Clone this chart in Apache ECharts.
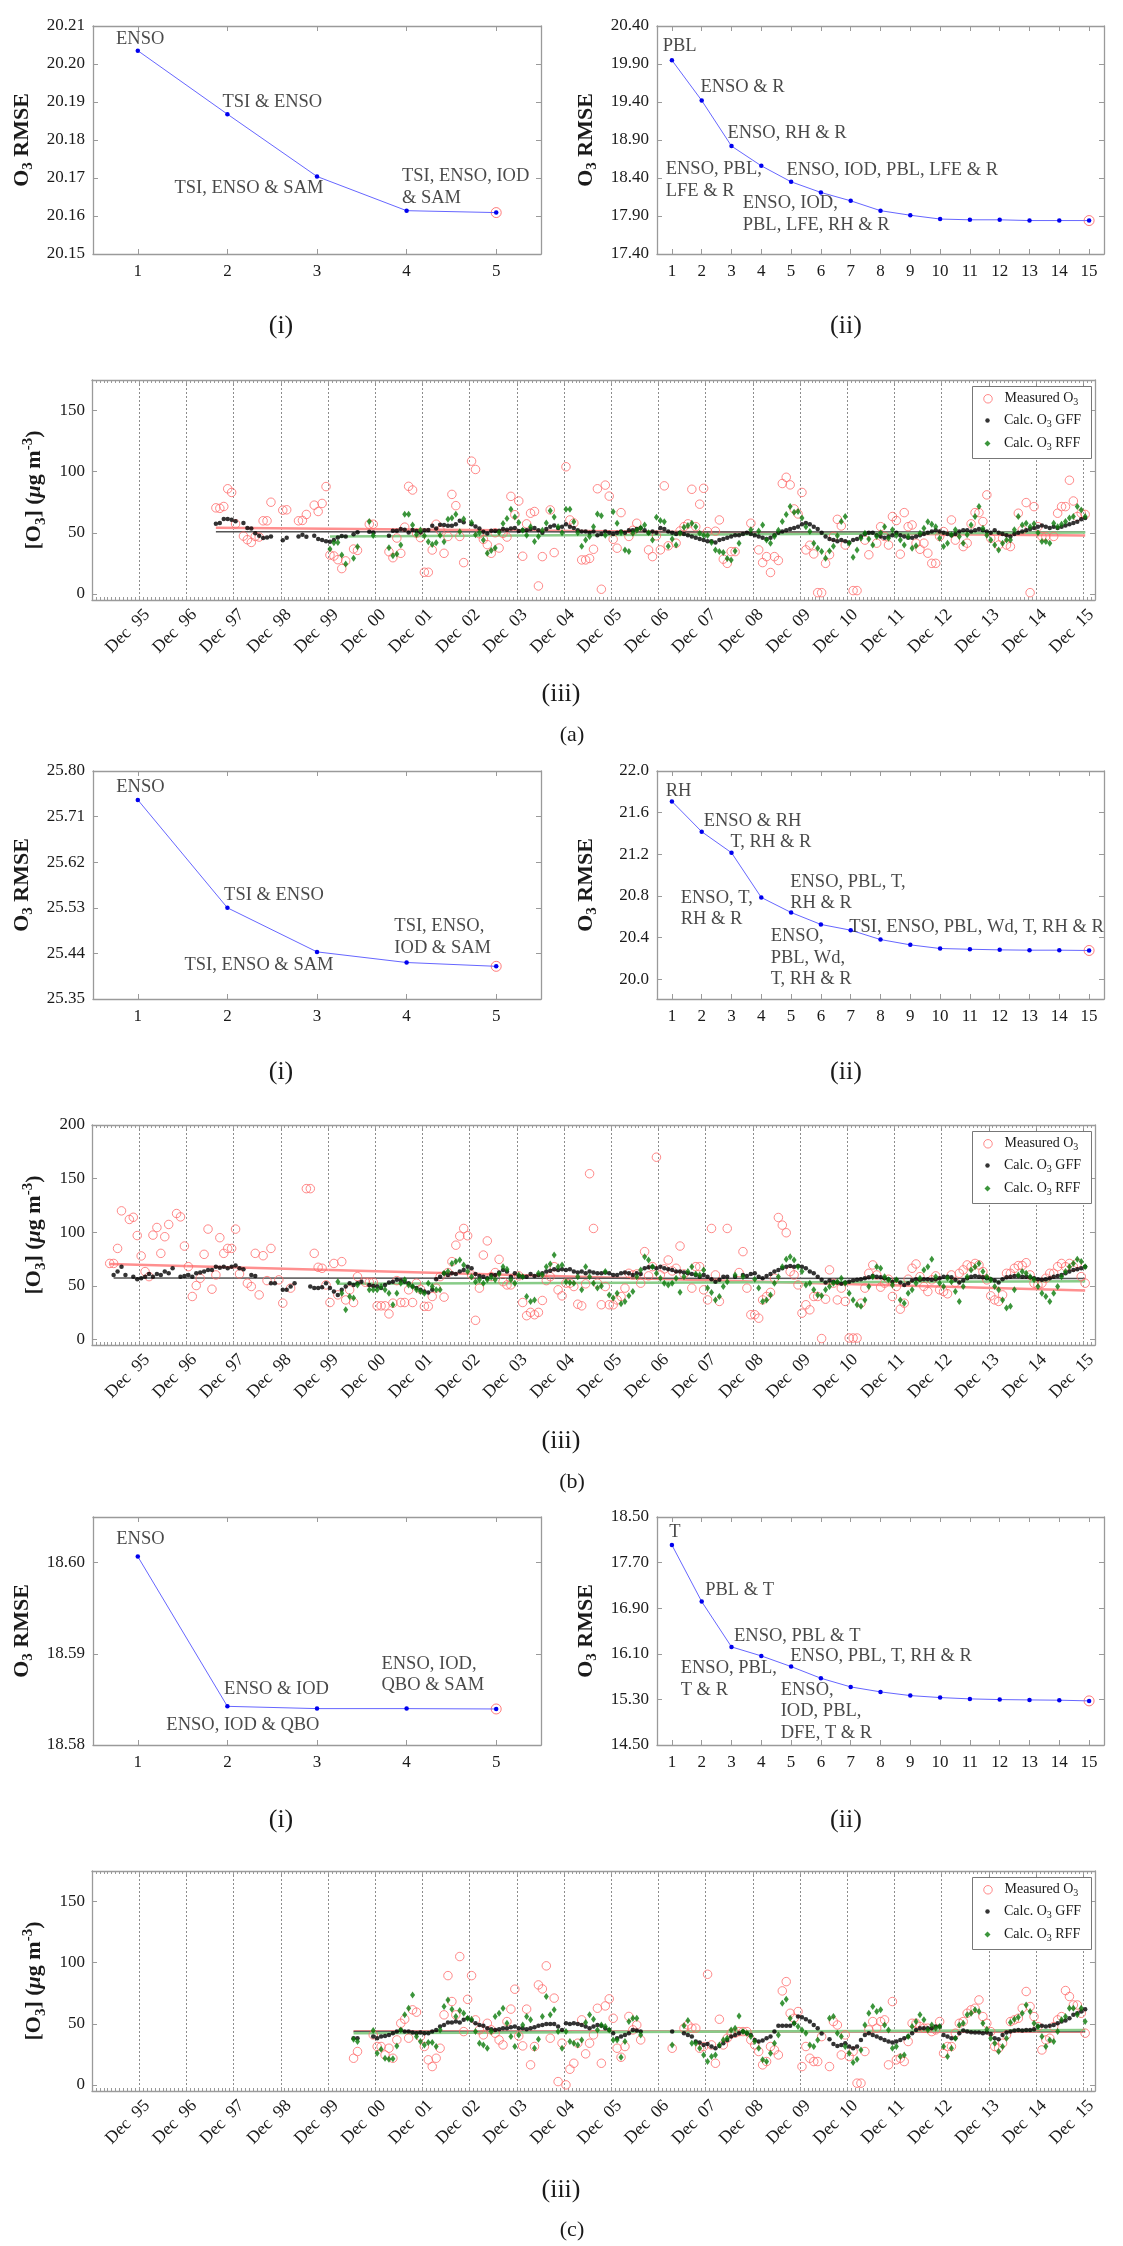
<!DOCTYPE html>
<html><head><meta charset="utf-8">
<script src="https://cdn.jsdelivr.net/npm/echarts@6/dist/echarts.min.js"></script>
<style>html,body{margin:0;padding:0;background:#fff;}#c{width:1123px;height:2246px;}</style>
</head><body><div id="c"></div>
<script>
// ---------------- DATA ----------------
// RMSE vs number of predictors
const aRmse5  = [20.2035, 20.1868, 20.1704, 20.1614, 20.1609];
const aRmse15 = [19.95, 19.42, 18.82, 18.56, 18.35, 18.21, 18.10, 17.97, 17.91, 17.86, 17.85, 17.85, 17.84, 17.84, 17.84];
const bRmse5  = [25.743, 25.530, 25.443, 25.422, 25.4145];
const bRmse15 = [21.708, 21.417, 21.215, 20.785, 20.641, 20.526, 20.471, 20.381, 20.330, 20.295, 20.288, 20.282, 20.279, 20.279, 20.276];
const cRmse5  = [18.60066, 18.58424, 18.58399, 18.58399, 18.58395];
const cRmse15 = [18.009, 17.016, 16.221, 16.063, 15.876, 15.671, 15.519, 15.432, 15.367, 15.332, 15.309, 15.297, 15.291, 15.286, 15.274];

// y tick labels of the RMSE plots
const aTicks5  = [20.15, 20.16, 20.17, 20.18, 20.19, 20.20, 20.21];
const aTicks15 = [17.40, 17.90, 18.40, 18.90, 19.40, 19.90, 20.40];
const bTicks5  = [25.35, 25.44, 25.53, 25.62, 25.71, 25.80];
const bTicks15 = [20.0, 20.4, 20.8, 21.2, 21.6, 22.0];
const cTicks5  = [18.58, 18.59, 18.60];
const cTicks15 = [14.50, 15.30, 16.10, 16.90, 17.70, 18.50];

// annotations: [text, x, y] in data units
const aNotes5  = [['ENSO', 0.762, 20.2063], ['TSI & ENSO', 1.951, 20.1897], ['TSI, ENSO & SAM', 1.414, 20.1671], ['TSI, ENSO, IOD\n& SAM', 3.953, 20.1674]];
const aNotes15 = [['PBL', 0.708, 20.124], ['ENSO & R', 1.973, 19.584], ['ENSO, RH & R', 2.879, 18.979], ['ENSO, PBL,\nLFE & R', 0.809, 18.370], ['ENSO, IOD, PBL, LFE & R', 4.859, 18.496], ['ENSO, IOD,\nPBL, LFE, RH & R', 3.393, 17.920]];
const bNotes5  = [['ENSO', 0.765, 25.7665], ['TSI & ENSO', 1.969, 25.5547], ['TSI, ENSO & SAM', 1.526, 25.4165], ['TSI, ENSO,\nIOD & SAM', 3.869, 25.4708]];
const bNotes15 = [['RH', 0.809, 21.798], ['ENSO & RH', 2.084, 21.517], ['T, RH & R', 2.980, 21.312], ['ENSO, T,\nRH & R', 1.312, 20.673], ['ENSO, PBL, T,\nRH & R', 4.987, 20.827], ['TSI, ENSO, PBL, Wd, T, RH & R', 6.966, 20.495], ['ENSO,\nPBL, Wd,\nT, RH & R', 4.332, 20.201]];
const cNotes5  = [['ENSO', 0.765, 18.6025], ['ENSO & IOD', 1.969, 18.5861], ['ENSO, IOD & QBO', 1.324, 18.58208], ['ENSO, IOD,\nQBO & SAM', 3.725, 18.58765]];
const cNotes15 = [['T', 0.926, 18.225], ['PBL & T', 2.134, 17.202], ['ENSO, PBL & T', 3.101, 16.395], ['ENSO, PBL, T, RH & R', 4.987, 16.044], ['ENSO, PBL,\nT & R', 1.312, 15.651], ['ENSO,\nIOD, PBL,\nDFE, T & R', 4.668, 15.084]];

// time axis (months counted from Dec 1994 = 0)
const yearLabels = ['95','96','97','98','99','00','01','02','03','04','05','06','07','08','09','10','11','12','13','14','15'];

// monthly O3 series (value for month index start+i)
const aStartM = 31, aStartG = 31, aStartR = 60;
const aMeasured = [70.4,70,71.5,86,83,57.3,null,47.3,44.3,42.1,
47,46.5,59.8,59.8,75,null,null,68.5,68.8,null,
null,59.8,60.1,65,null,72.6,67.4,74,87.8,31.8,
31,28,20.7,27,null,36.7,35.6,null,null,57,
57,null,null,null,34.5,29.6,45.7,33.2,54.6,88,
85,49.7,46,17.7,17.7,35.9,57,52,33.2,47,
81.4,72.2,47,25.6,null,108.6,101.8,49.2,44.6,40.3,
33.2,50,37.5,49.5,46.5,79.8,64.8,76,30.8,57.3,
66,67.4,6.5,30.5,null,68.7,33.8,null,null,104,
60.5,58,null,27.8,27.8,29,36.5,86,3.8,89,
80,44.7,37.4,66.5,null,47,52,57.8,null,null,
36,30.5,47.5,36,88.4,39.3,null,41.5,51.5,55,
57.3,85.6,55,73.4,86.4,51,null,51.3,60.5,28.4,
25,34.6,34.6,null,null,null,57.8,null,36,25.6,
30.5,17.5,30.5,27.3,90.3,95.4,89.2,69.5,65.4,83,
36,39.8,32.7,1,1,25,32,47,61,55.6,
40,null,2.7,2.7,null,44,32,null,41.5,55,
47,40,63.3,60,32.5,66.5,55,56.4,41.5,36.5,
41.5,33.3,25,25,47,51,null,60.5,44,null,
38.7,41.5,57.3,66.5,66.5,59.2,81,45.5,null,40,
45.5,40,38.7,null,66,52.4,74.7,1,71.4,55,
47,47,null,47,66,71.4,71.4,93,76,63.3,
66,65];
const aGFF = [57.4,58,61.2,61.2,60.6,59.5,null,58,54,53.5,
49.7,47.6,45.7,46.2,47,null,null,43.8,46,null,
null,47,48.4,46.8,null,47.6,44.9,44,43,42.7,
44,46.2,47.3,47,null,48.7,50.5,null,null,50.8,
50.3,null,null,null,47.6,51.7,51.7,53,52.5,50.3,
52.2,51.4,50.3,52,52.2,55.7,53.5,56.5,56.3,55.7,
55.7,57,59.8,58.7,null,57,55.2,53.5,50.8,49.5,
51.7,51.4,51.7,53,52.5,53.5,54,51.4,52,52,
53,54,52,50,53,55,56,54,55,57,
55,54,52,51,51,50,51,48,49,51,
50,49,50,51,50,52,52,53,54,52,
50,51,50,54,53,51,50,49,50,49,
48,47,46,45,44,43,43,42,44,45,
46,47,48,48,49,50,49,48,47,46,
45,46,48,50,51,52,53,54,55,57,
58,57,55,53,50,47,45,44,43,44,
43,42,44,45,47,49,50,50,48,47,
46,47,48,50,48,47,46,46,47,48,
49,50,51,52,51,50,49,48,49,51,
52,52,51,52,53,52,51,50,52,50,
49,48,47,49,50,51,52,53,54,55,
56,55,54,55,54,55,56,57,58,59,
61,62];
const aRFF = [36.7,41.8,42.1,31.8,24.5,null,29.1,38.6,null,null,
59.2,47.8,null,null,null,37.8,31.3,32.6,40,65.2,
65.2,56.3,48.6,52.2,47.6,42.7,40.5,41.8,48,42.7,
61,62,65.2,50.8,61.2,null,58.4,48.4,50,44,
33.2,35.4,37.5,50.3,57.6,61.7,69.3,63,58.4,52,
48,55,42.8,47,52,58,68,63,55,50,
69.3,69.3,59,50,39,44,47,55,65.4,64,
48,null,67.3,57.8,50,36,34.6,49.6,52,54,
56.4,50,44,62.7,60,59,39,45,40,49.6,
54.5,56,57.8,55,49.6,48,47.7,42,36,34.6,
33.8,29,27.8,35,41.5,null,null,52.4,null,51.5,
56.4,44,41.5,47,52,59.2,65,71.4,66.8,67.4,
62,55,51,41.5,37.4,34.6,29.2,35,39,47.5,
59.2,63.3,41.5,30,36,45.5,49.6,45,40,47,
50,55,45.5,52.4,47.7,44,40,47,37.4,39.3,
49.6,53.7,59,57,55,45.5,38.7,41.5,48.3,52.4,
47,41.5,48.3,56.4,63.3,71.4,53.7,48,44,40,
36,41.5,44,44,52.4,63.3,56.4,57.8,55,57.3,
50,42.8,42.8,41.5,57.8,55,57,59.2,62,63.3,
71.4,68.7,63.3];

const bStartM = 4, bStartG = 5, bStartR = 62;
const bMeasured = [71,71,85,120,null,112,114,97,78,63.4,
58.7,97.4,104.5,80.4,95.9,107.3,null,117.5,114.4,87.2,
68,40.2,50.4,57.2,79.5,103,47,60.3,95,80.4,
85,85,103,61.2,null,52.6,49.5,80.4,41.7,78.2,
55,85,null,55.7,34,null,48,null,null,null,
140.7,140.7,80.4,67.4,66.5,51,34.6,71,41.7,72.7,
37,46.4,34.6,58.7,null,53.5,53.5,53.5,31.5,31.5,
31.5,24,34,55,34.6,34.6,46.4,34.6,52.6,47,
31,31,40.2,48,58.7,39.6,62.5,72.7,88,96.5,
103.6,96.8,60.3,18,48,78.8,92,58.7,62.5,74.8,
54,51,51,null,59.4,34.6,22.3,25.4,23.2,25.4,
36.5,55,58.7,68,46.4,40.8,52.6,52.6,49.5,33,
31.5,52,154.6,103.6,52.6,32.5,49.5,32.5,32.5,37,
40.2,48,61.8,60.3,61.2,52.6,82,59.4,68,170,
60.3,65.9,74.2,64,66.5,87.2,61.2,null,48,68,
68,46.4,37,103.6,60.3,35.6,null,103.6,null,null,
62.5,82,48,23.2,23.2,20,37,40.2,44,57.2,
113.8,106.7,99.6,63.4,60.3,51,24.7,32.5,27.8,40.2,
40.2,1,37.7,65,52.6,37,48,35.6,1.5,1.5,
1.5,34,48,61.8,69.6,60.3,48.9,52.6,56.3,40.2,
49.5,28.4,34,56.3,66.5,70.5,58.7,49.5,44.8,55.7,
59.4,46.4,44.8,42.7,60.3,53.2,61.8,65,69.6,68,
71,69.6,63.4,55.7,40.8,37,35.6,41.7,61.8,61.8,
66.5,69,69,71.7,60.3,52.6,51,52.6,57.2,61.8,
61.8,68,71,68,71,68,71,58.7,52.6];
const bGFF = [60.3,63.4,68,60.3,null,58.7,56.3,57.2,58.7,61.2,
58.7,61.2,60.3,63.4,61.8,66.5,null,58.7,59.4,60.3,
58.7,61.8,62.5,63.4,65,65,68,67,68,66.5,
68,69,66.5,65.6,null,60.3,59.4,null,null,null,
52.6,52.6,null,46.4,46.4,49.5,52.6,null,null,null,
49.5,48,48,48.9,52.6,48,44.8,41.7,46.4,49.5,
52.6,51,52.6,54,null,51,50,49.5,48,51,
53.2,54,55.7,55,54,52.6,49.5,48,46.4,44.8,
44,46.4,56.3,58.7,61.8,60.3,61.8,61.2,63.4,65,
68,66.5,61.2,59.4,58.7,57.2,60.3,60.3,62.5,65,
63.4,58.7,61.8,59.4,58.7,58.7,61.2,59.4,60.3,61.8,
63.4,64.3,65.6,65,65.6,65,65.6,63.4,62.5,63.4,
61.8,63.4,62.5,61.8,61.8,62.5,61.8,60.3,60.3,61.8,
62.5,61.8,60.3,61.8,61.2,66.5,67.4,68,66.5,68,
66.5,65.6,65,63.4,63.4,62.5,61.8,61.2,60.3,58.7,
60.3,58.7,56.3,54,55.7,58.7,58.7,null,58.7,null,
60.3,59.4,61.2,61.8,58.7,57.2,59.4,61.2,63.4,65,
66.5,68,68.6,68,68.6,68,66.5,63.4,61.8,58.7,
55.7,53.2,55,54,53.2,52,53.2,54,55,55.7,
56.3,57.2,58.1,59.4,58.7,58.1,57.2,56.3,54,55.7,
53.2,51,52.6,55,56.3,55.7,56.3,56.3,55.7,56.3,
57.2,58.7,58.7,58.1,55.7,53.2,55,57.2,58.7,59.4,
58.7,58.1,57.2,56.3,55,53.2,56.3,58.1,58.7,59.4,
59.4,58.7,58.7,58.1,57.2,56.3,55.7,56.3,57.2,58.7,
59.4,60.3,61.8,63.4,65,65.6,66.5,68];
const bRFF = [54,43.3,27.8,40.2,38.7,51,null,null,46.4,46.4,
46.4,49.5,46.4,43.3,32.5,43.3,52.6,55.7,51,49.5,
46.4,44.8,43.3,52.6,49.5,46.4,46.4,61.8,63.4,71,
72.7,74.2,69.6,63.4,58.7,54,55.7,52.6,55.7,58.1,
55.7,61.2,68,65.6,55.7,52.6,60.3,58.7,40.2,35.6,
37,61.8,60.3,68,70.5,78.8,68,69.6,54,53.2,
52.6,58.7,46.4,68,58.7,52.6,48,50,63.4,41.7,
38.7,43.3,33.4,35.6,40.8,44.8,58.7,65,77.3,74.2,
68,61.8,57.2,52.6,51,52.6,57.2,44.2,58.7,63.4,
68,61.2,60.3,65,48,44,37,40.2,49.5,54,
null,60.3,null,58.7,null,null,56.3,48,35.6,37,
41.7,52.6,58.7,68,74.8,77.3,74.2,68,63.4,51,
52.6,46.4,41.7,40.8,46.4,49.5,52.6,54,57.2,52.6,
43.3,37,32.5,31,37,49.5,58.7,68,66.5,58.7,
55.7,51,55.7,37,34,43.3,46.4,52.6,57.2,65,
68,74.8,58.7,52.6,49.5,57.2,54,44.8,35.6,49.5,
58.7,65,68,71,63.4,58.7,55.7,49.5,46.4,37,
29.4,31,46.4,60.3,63.4,61.8,58.7,55.7,49.5,43.3,
40.2,35.6,43.3,49.5,58.7,63.4,68,71,74.8,72.7,68];

const cStartM = 66, cStartG = 66, cStartR = 66;
const cMeasured = [21.8,27.3,null,null,null,40.9,31.4,31.4,24.5,30,
21.8,36.8,50.4,53.7,38.2,61.4,59.5,39.5,31.4,20.5,
15,21.8,30,57.3,89.4,68.2,57.3,105,43.6,70,
89.4,53.2,45,40.9,50.4,45,42.3,36.8,32.7,51.8,
62,78.3,40,31.9,62,16.4,31.4,81.8,78.5,97.4,
38.2,71,2.7,34.1,0,12.8,17.7,34.1,53.2,25.4,
34.1,40.9,62.7,17.7,64.6,70.4,54.5,30,22.6,31.4,
56,45,49,36.8,null,null,null,null,null,null,
null,30,null,null,46.4,49,46.4,46.4,30,31.4,
90.5,32.7,17.7,53.7,32.7,38.2,42.3,42.3,43.6,43.6,
43.6,36.8,32.7,27.3,16.4,19.1,31.4,28.6,24.5,76.9,
84.5,58.6,54.5,60,15,31.4,21.8,19.1,19.1,39.5,
null,15,51.8,49,24.5,40.9,23.2,27.3,1.4,1.4,
27.3,45,51.8,46.4,51.8,53.2,16.4,68.2,20.5,21.8,
19.1,35.5,50.4,50.4,47.7,46.4,46.4,43.6,45,51.8,
25.9,31.4,31.4,42.3,50.4,51.8,58.6,61.4,62.7,69.5,
55.9,50.4,43.6,31.4,30,34.1,40.9,51.8,53.2,54.5,
62.7,76.4,64.1,55.9,47.7,28.6,36.8,38.2,47.7,53.2,
55.9,77.2,72.3,65.4,65.4,58.6,42.3];
const cGFF = [38.2,38.2,null,null,null,39.5,38.2,39.5,40,40.9,
42.3,43.6,45,43.6,43.6,42.8,42.3,42.8,42.3,42.3,
43.6,45,47.7,49,51,51,51.8,51,53.2,54.5,
52.6,50.4,49,48.3,46.4,45.5,45,45.5,46.4,46.4,
47.2,47.7,46.4,46.4,45.5,46.4,47.2,48.3,49,49.9,
49.9,49.9,47.7,45,50.4,49.9,50.4,49.9,49,47.7,
46.4,47.7,49,48.3,46.4,45,42.3,38.2,39.5,40.9,
42.3,45,44.5,43.6,null,null,null,null,null,null,
null,43.6,null,null,42.3,40.9,39.5,35.5,34.6,32.7,
33.5,31.4,30,31.9,34.1,36.8,39.5,40.9,42.3,43.6,
42.3,40.9,36.8,35.5,36.3,38.2,39.5,43.6,48.3,48.3,
48.3,48.3,50.4,55.9,55.4,53.7,51.8,49,46.4,42,
null,37.4,33.5,31.9,32.7,34.1,31.4,30,31.4,36.8,
40.9,42.3,40.9,39.5,38.2,36.8,35.5,34.6,35.5,36.8,
38.2,39.5,42.3,45,46.4,46.4,46.4,46.4,47.7,47.7,
40.9,39.5,38.2,38.2,42.3,44.5,43.6,43.1,42.8,42.8,
42.3,42.8,41.7,38.2,37.4,40.9,42.8,43.6,44.5,45,
44.5,45,45,45.5,47.7,48.3,47.7,48.3,49,50.4,
51.8,52.6,54.5,57.3,58.6,60,61.9];
const cRFF = [37.4,35.5,null,null,null,44.5,25.9,29.2,21.8,21,
21.3,31.9,45,57.3,62.7,73.6,39.5,35.5,32.7,34.6,
34.6,31.4,45,64.1,69.5,61.9,55.9,60.8,58.6,54.5,
53.7,43.6,34.1,32.7,30,43.6,55.9,58.6,62.7,50.4,
39.5,31.4,40.9,49,55.9,53.2,30,37.4,55.9,72.3,
57.3,61.4,43.6,30,43.6,35.5,34.1,32.7,36.8,51,
57.3,53.7,45,49,47.7,45,36.8,36.8,22.6,35.5,
51.8,54.5,54.5,40.9,null,null,null,null,null,null,
null,32.7,null,null,48.3,52.6,34.1,34.1,30,24.5,
19.1,23.2,24.5,32.7,36.8,38.2,45,46.4,56.4,43.6,
42.3,39.5,35.5,30,20.5,19.1,25.9,34.1,40.9,66.8,
70,54.5,50.4,47.7,45,42.3,32.7,31.4,36.8,null,
null,54.5,55.9,42.3,39.5,31.4,25.9,18.3,21,28.6,
49,58.6,64.1,60,61.4,49,45,30,31.4,23.2,
24.5,39.5,47.7,51.8,57.3,53.2,45,49,46.4,47.7,
31.4,23.2,30,38.2,49,50.4,57.3,58.6,61.4,60,
50.4,45.5,38.2,34.1,27.3,31.4,38.2,51,53.7,55.4,
58.6,65.4,60,50.4,47.7,39.5,31.4,36.8,35.5,43.6,
53.2,55.9,62.7,62.7,57.3,62.7,51.8];

// linear trend lines: [value at start, value at end] (Measured, GFF, RFF)
const aTrend = [[54.2, 47.8], [50.8, 50.6], [47.0, 50.2]];
const bTrend = [[70.5, 45.8], [57.5, 57.0], [52.0, 54.4]];
const cTrend = [[43.8, 43.4], [43.6, 43.6], [42.3, 45.0]];
const trendEnd = 252.5;

// ---------------- CHART ----------------
const FONT = "'Liberation Serif','Times New Roman','DejaVu Serif',serif";
const TXT = '#1a1a1a', AX = '#9a9a9a';
const grids = [], xAxes = [], yAxes = [], series = [], legends = [], graphics = [];
function addGrid(l, t, w, h) { grids.push({left: l, top: t, width: w, height: h, containLabel: false, outerBoundsMode: 'none'}); return grids.length - 1; }
function addX(o) { xAxes.push(o); return xAxes.length - 1; }
function addY(o) { yAxes.push(o); return yAxes.length - 1; }
function pairs(start, arr) { const r = []; arr.forEach((v, i) => { if (v !== null) r.push([start + i + 0.5, v]); }); return r; }

const subRich = {
  b: {fontFamily: FONT, fontSize: 22, fontWeight: 'bold', color: TXT, lineHeight: 28, verticalAlign: 'middle'},
  s: {fontFamily: FONT, fontSize: 15, fontWeight: 'bold', color: TXT, lineHeight: 28, verticalAlign: 'bottom'},
  i: {fontFamily: FONT, fontSize: 22, fontWeight: 'bold', fontStyle: 'italic', color: TXT, lineHeight: 28, verticalAlign: 'middle'},
  p: {fontFamily: FONT, fontSize: 15, fontWeight: 'bold', color: TXT, lineHeight: 28, verticalAlign: 'top'}
};
const lineAx = {onZero: false, lineStyle: {color: AX, width: 1.3}};

function rmsePanel(left, top, width, values, yMin, yMax, yTicks, dec, notes, lh) {
  const gi = addGrid(left, top, width, 228);
  const n = values.length;
  const xt = values.map((v, i) => i + 1);
  const xc = {type: 'value', gridIndex: gi, min: 0.5, max: n + 0.5, splitLine: {show: false}, axisLine: lineAx,
    axisTick: {inside: true, length: 5, customValues: xt, lineStyle: {color: AX}}};
  const xb = addX(Object.assign({}, xc, {position: 'bottom', axisLabel: {customValues: xt, fontFamily: FONT, fontSize: 17, color: TXT, margin: 9}}));
  addX(Object.assign({}, xc, {position: 'top', axisLabel: {show: false}}));
  const yc = {type: 'value', gridIndex: gi, min: yMin, max: yMax, splitLine: {show: false}, axisLine: lineAx,
    axisTick: {inside: true, length: 5, customValues: yTicks, lineStyle: {color: AX}}};
  const yl = addY(Object.assign({}, yc, {position: 'left',
    axisLabel: {customValues: yTicks, formatter: v => v.toFixed(dec), fontFamily: FONT, fontSize: 17, color: TXT, margin: 8},
    name: '{b|O}{s|3}{b| RMSE}', nameLocation: 'middle', nameRotate: 90, nameGap: 57, nameTextStyle: {rich: subRich}}));
  addY(Object.assign({}, yc, {position: 'right', axisLabel: {show: false}}));
  series.push({type: 'scatter', xAxisIndex: xb, yAxisIndex: yl, data: [[n, values[n - 1]]], symbol: 'circle', symbolSize: 10,
    itemStyle: {color: 'rgba(255,255,255,0)', borderColor: '#ff5a5a', borderWidth: 1}, z: 2, silent: true});
  series.push({type: 'line', xAxisIndex: xb, yAxisIndex: yl, data: values.map((v, i) => [i + 1, v]),
    lineStyle: {color: '#6666ff', width: 1}, symbol: 'circle', symbolSize: 4.5, showSymbol: true,
    itemStyle: {color: '#0000ee'}, z: 3, silent: true});
  series.push({type: 'scatter', xAxisIndex: xb, yAxisIndex: yl, symbolSize: 1, itemStyle: {color: 'rgba(0,0,0,0)'},
    data: notes.map(t => ({value: [t[1], t[2]], name: t[0]})), silent: true, z: 6,
    label: {show: true, formatter: '{b}', position: [0, 0], align: 'left', verticalAlign: 'middle',
      fontFamily: FONT, fontSize: 18.5, color: TXT, lineHeight: lh}});
}

function legendItem(name, icon, size, cy) {
  legends.push({data: [name], left: 987.5 - size / 2, top: cy - 9, orient: 'vertical', padding: 0,
    itemWidth: size, itemHeight: size, selectedMode: false, icon: icon, z: 20,
    itemStyle: {borderWidth: name.indexOf('Measured') === 0 ? 1 : 0},
    formatter: nm => nm.replace('O3', 'O{s|3}'),
    textStyle: {fontFamily: FONT, fontSize: 14, color: TXT, lineHeight: 18, padding: [0, 0, 0, 1004 - (987.5 + size / 2 + 5)],
      rich: {s: {fontFamily: FONT, fontSize: 10, color: TXT, lineHeight: 18, verticalAlign: 'bottom'}}}});
}

function scatterPanel(top, yMax, yTicks, mS, mArr, gS, gArr, rS, rArr, trend) {
  const gi = addGrid(92, top, 1003, 220);
  const xm = addX({type: 'value', gridIndex: gi, position: 'bottom', min: 0, max: 255, interval: 12, axisLine: lineAx,
    axisTick: {show: true, inside: true, length: 4, lineStyle: {color: AX}},
    minorTick: {show: true, splitNumber: 12, length: 3, lineStyle: {color: AX}},
    axisLabel: {show: false}, splitLine: {show: true, lineStyle: {color: '#8c8c8c', type: [2, 2], width: 1}}});
  addX({type: 'value', gridIndex: gi, position: 'bottom', min: -2, max: 253, axisLine: {show: false}, axisTick: {show: false},
    splitLine: {show: false}, axisLabel: {customValues: yearLabels.map((y, i) => 12 * (i + 1)),
      formatter: v => 'Dec  ' + yearLabels[Math.round(v / 12) - 1], rotate: 45, fontFamily: FONT, fontSize: 17.5, color: TXT, margin: 12}});
  addX({type: 'value', gridIndex: gi, position: 'top', min: 0, max: 255, interval: 12, axisLine: lineAx,
    axisTick: {show: true, inside: true, length: 4, lineStyle: {color: AX}},
    minorTick: {show: true, splitNumber: 12, length: 3, lineStyle: {color: AX}}, axisLabel: {show: false}, splitLine: {show: false}});
  const yc = {type: 'value', gridIndex: gi, min: -5, max: yMax, splitLine: {show: false}, axisLine: lineAx,
    axisTick: {inside: true, length: 5, customValues: yTicks, lineStyle: {color: AX}}};
  const yl = addY(Object.assign({}, yc, {position: 'left',
    axisLabel: {customValues: yTicks, fontFamily: FONT, fontSize: 17, color: TXT, margin: 7},
    name: '{b|[O}{s|3}{b|] (}{i|\u03bc}{b|g m}{p|-3}{b|)}', nameLocation: 'middle', nameRotate: 90, nameGap: 42,
    nameTextStyle: {rich: subRich}}));
  addY(Object.assign({}, yc, {position: 'right', axisLabel: {show: false}}));
  const tl = (s, v, c, w, z) => series.push({type: 'line', xAxisIndex: xm, yAxisIndex: yl, data: [[s + 0.5, v[0]], [trendEnd, v[1]]],
    symbol: 'none', lineStyle: {color: c, width: w}, z: z, silent: true});
  tl(mS, trend[0], '#ff8f8f', 2.5, 1);
  tl(gS, trend[1], '#555555', 1.5, 1);
  tl(rS, trend[2], '#88cc88', 2.5, 1);
  series.push({type: 'scatter', name: 'Measured O3', xAxisIndex: xm, yAxisIndex: yl, data: pairs(mS, mArr), symbol: 'circle', symbolSize: 8.5,
    itemStyle: {color: 'rgba(255,255,255,0)', borderColor: '#ff6b6b', borderWidth: 1}, z: 3, silent: true});
  series.push({type: 'scatter', name: 'Calc. O3 GFF', xAxisIndex: xm, yAxisIndex: yl, data: pairs(gS, gArr), symbol: 'circle', symbolSize: 4.5,
    itemStyle: {color: '#000000'}, z: 4, silent: true});
  series.push({type: 'scatter', name: 'Calc. O3 RFF', xAxisIndex: xm, yAxisIndex: yl, data: pairs(rS, rArr), symbol: 'diamond', symbolSize: [5, 7],
    itemStyle: {color: '#0a7a0a'}, z: 5, silent: true});
  graphics.push({type: 'rect', shape: {x: 972.5, y: top + 6.5, width: 119, height: 72}, style: {fill: '#fff', stroke: '#777', lineWidth: 1}, z: 10});
  legendItem('Measured O3', 'circle', 8.5, top + 18.8);
  legendItem('Calc. O3 GFF', 'circle', 4.5, top + 40.5);
  legendItem('Calc. O3 RFF', 'diamond', 6, top + 63.5);
}

const OFF = [0, 745, 1491];
const panels = [
  [aRmse5, aTicks5, 20.15, 20.21, 2, aNotes5, aRmse15, aTicks15, 17.40, 20.40, 2, aNotes15, 22],
  [bRmse5, bTicks5, 25.35, 25.80, 2, bNotes5, bRmse15, bTicks15, 19.81, 22.0, 1, bNotes15, 21.5],
  [cRmse5, cTicks5, 18.58, 18.605, 2, cNotes5, cRmse15, cTicks15, 14.50, 18.50, 2, cNotes15, 21.5]
];
panels.forEach((p, k) => {
  rmsePanel(93, 26 + OFF[k], 448, p[0], p[2], p[3], p[1], p[4], p[5], p[12]);
  rmsePanel(657, 26 + OFF[k], 447, p[6], p[8], p[9], p[7], p[10], p[11], p[12]);
});
scatterPanel(380, 175, [0, 50, 100, 150], aStartM, aMeasured, aStartG, aGFF, aStartR, aRFF, aTrend);
scatterPanel(1125, 200, [0, 50, 100, 150, 200], bStartM, bMeasured, bStartG, bGFF, bStartR, bRFF, bTrend);
scatterPanel(1871, 175, [0, 50, 100, 150], cStartM, cMeasured, cStartG, cGFF, cStartR, cRFF, cTrend);

// sub-figure captions
const cap = (t, x, y, fs) => graphics.push({type: 'text', x: x, y: y, z: 30,
  style: {text: t, fontFamily: FONT, fontSize: fs, fill: TXT, align: 'center', verticalAlign: 'middle'}});
[[326, 694, 735], [1072, 1441, 1482], [1820, 2190, 2230]].forEach((r, k) => {
  cap('(i)', 281, r[0], 26); cap('(ii)', 846, r[0], 26); cap('(iii)', 561, r[1], 26);
  cap(['(a)', '(b)', '(c)'][k], 572, r[2], 22);
});

const chart = echarts.init(document.getElementById('c'), null, {renderer: 'canvas'});
chart.setOption({animation: false, backgroundColor: '#fff', grid: grids, xAxis: xAxes, yAxis: yAxes,
  series: series, legend: legends, graphic: {elements: graphics}});
</script></body></html>
